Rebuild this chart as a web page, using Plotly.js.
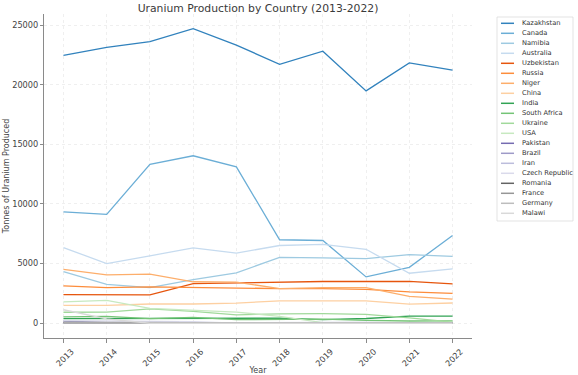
<!DOCTYPE html>
<html><head><meta charset="utf-8">
<script src="https://cdn.plot.ly/plotly-3.0.1.min.js"></script>
<style>body{margin:0;background:#fff}#c{width:578px;height:375px}</style>
</head><body><div id="c"></div>
<script>
const years = [2013,2014,2015,2016,2017,2018,2019,2020,2021,2022];
const countries = ["Kazakhstan","Canada","Namibia","Australia","Uzbekistan","Russia","Niger","China","India","South Africa","Ukraine","USA","Pakistan","Brazil","Iran","Czech Republic","Romania","France","Germany","Malawi"];
const kazakhstan = [22451,23127,23607,24689,23321,21705,22808,19477,21819,21227];
const canada     = [9331,9134,13325,14039,13116,7001,6938,3885,4693,7351];
const namibia    = [4323,3255,2993,3654,4224,5525,5476,5413,5753,5613];
const australia  = [6350,5001,5654,6315,5882,6517,6613,6203,4192,4553];
const uzbekistan = [2400,2400,2385,3325,3400,3450,3500,3500,3520,3300];
const russia     = [3135,2990,3055,3004,2917,2904,2911,2846,2635,2508];
const niger      = [4518,4057,4116,3479,3449,2911,2983,2991,2248,2020];
const china      = [1500,1500,1616,1616,1692,1885,1885,1885,1600,1700];
const india      = [385,385,385,385,421,423,308,400,600,600];
const southAfrica= [531,573,393,490,308,346,346,250,192,200];
const ukraine    = [922,926,1200,1005,707,790,800,744,455,100];
const usa        = [1792,1919,1256,1125,940,582,58,6,8,75];
const pakistan   = [45,45,45,45,45,45,45,45,45,45];
const brazil     = [192,55,40,44,0,0,0,15,29,43];
const iran       = [83,38,38,0,40,71,71,71,21,20];
const czech      = [215,193,155,138,0,0,0,0,0,0];
const romania    = [77,77,77,50,0,0,0,0,0,0];
const france     = [5,3,2,0,0,0,0,2,0,0];
const germany    = [27,33,0,0,0,0,0,0,0,0];
const malawi     = [1132,369,0,0,0,0,0,0,0,0];
const yTicks = [0,5000,10000,15000,20000,25000];
const series = [kazakhstan,canada,namibia,australia,uzbekistan,russia,niger,china,india,southAfrica,ukraine,usa,pakistan,brazil,iran,czech,romania,france,germany,malawi];
const colors = ["#3182bd","#6baed6","#9ecae1","#c6dbef","#e6550d","#fd8d3c","#fdae6b","#fdd0a2","#31a354","#74c476","#a1d99b","#c7e9c0","#756bb1","#9e9ac8","#bcbddc","#dadaeb","#636363","#969696","#bdbdbd","#d9d9d9"];

const traces = countries.map((name,i)=>({
  x: years, y: series[i], name: name, type:'scatter', mode:'lines',
  line:{color:colors[i], width:1.3}, showlegend:false, hoverinfo:'skip'
}));

// compact legend drawn with shapes/annotations (pixel -> paper helpers)
const L=44, R=472, T=14, B=338;
const px = v => (v-L)/(R-L);
const py = v => (B-v)/(B-T);
const shapes = [{type:'rect', xref:'paper', yref:'paper', x0:px(497), x1:px(573), y0:py(17), y1:py(221),
  line:{color:'#dcdcdc', width:0.8}, fillcolor:'rgba(255,255,255,0.85)', layer:'above'}];
const annotations = [];
countries.forEach((name,i)=>{
  const yy = 23.3 + i*10;
  shapes.push({type:'line', xref:'paper', yref:'paper', x0:px(501), x1:px(514), y0:py(yy), y1:py(yy),
    line:{color:colors[i], width:1.5}, layer:'above'});
  annotations.push({xref:'paper', yref:'paper', x:px(520), y:py(yy), text:name, showarrow:false,
    xanchor:'left', yanchor:'middle', font:{size:6.7, color:'#333', family:'DejaVu Sans, sans-serif'}});
});

const layout = {
  width:578, height:375,
  margin:{l:L, r:578-R, t:T, b:375-B, pad:0},
  paper_bgcolor:'#fff', plot_bgcolor:'#fff',
  font:{family:'DejaVu Sans, sans-serif', color:'#444', size:8.2},
  title:{text:'Uranium Production by Country (2013-2022)', x:(L+R)/2/578, xanchor:'center', y:0.988, yanchor:'top',
    font:{size:10.8, color:'#3a3a3a'}},
  xaxis:{range:[2012.55,2022.45], tickvals:years, ticktext:years.map(String), tickangle:-45,
    ticklabelshift:8, ticklabelstandoff:1,
    showgrid:true, gridcolor:'#ebebeb', griddash:'dot', gridwidth:0.8,
    showline:true, linecolor:'#8a8a8a', linewidth:1.1, ticks:'outside', ticklen:3.5, tickcolor:'#8a8a8a',
    zeroline:false, tickfont:{size:8.2, color:'#444'},
    title:{text:'Year', font:{size:8, color:'#444'}, standoff:2}},
  yaxis:{range:[-1235,25925], tickvals:yTicks, ticktext:yTicks.map(String),
    showgrid:true, gridcolor:'#ebebeb', griddash:'dot', gridwidth:0.8,
    showline:true, linecolor:'#8a8a8a', linewidth:1.1, ticks:'outside', ticklen:3, tickcolor:'#8a8a8a',
    zeroline:false, tickfont:{size:8.2, color:'#444'},
    title:{text:'Tonnes of Uranium Produced', font:{size:8, color:'#444'}, standoff:1}},
  shapes:shapes, annotations:annotations, showlegend:false
};
Plotly.newPlot('c', traces, layout, {staticPlot:true, displayModeBar:false});
</script></body></html>
